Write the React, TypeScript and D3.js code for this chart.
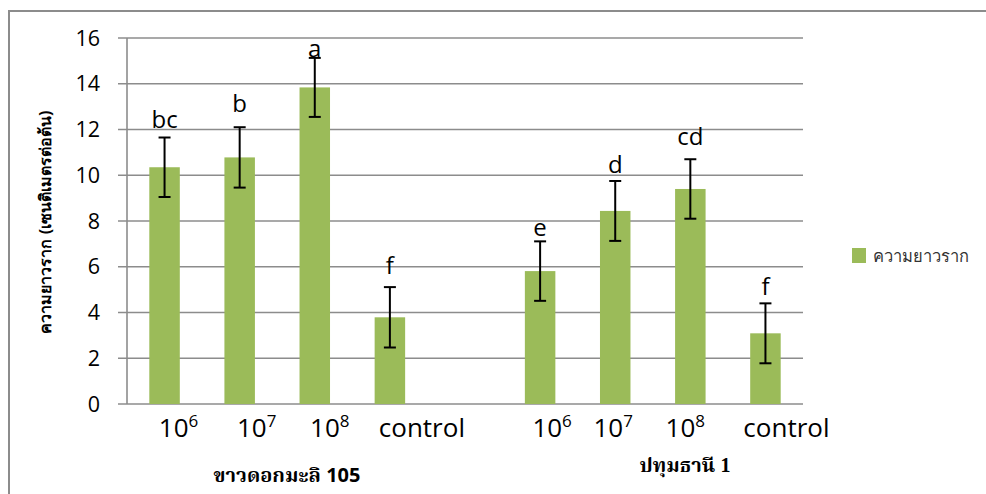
import React from "react";
import * as d3 from "d3";

// ---- data ----
const categoryIds = ["K-1e6", "K-1e7", "K-1e8", "K-control", "gap", "P-1e6", "P-1e7", "P-1e8", "P-control"];
const tickBase = ["10", "10", "10", "control", "", "10", "10", "10", "control"];
const tickSup = ["6", "7", "8", "", "", "6", "7", "8", ""];
const means: (number | null)[] = [10.35, 10.78, 13.84, 3.79, null, 5.81, 8.44, 9.4, 3.09];
const errors: (number | null)[] = [1.3, 1.32, 1.29, 1.32, null, 1.3, 1.31, 1.3, 1.31];
const letters = ["bc", "b", "a", "f", "", "e", "d", "cd", "f"];
const groupNames = ["ขาวดอกมะลิ", "ปทุมธานี"];
const groupNumbers = ["105", "1"];
const yTicks = [0, 2, 4, 6, 8, 10, 12, 14, 16];
const seriesName = "ความยาวราก";
const yTitle = "ความยาวราก (เซนติเมตรต่อต้น)";

// ---- layout constants ----
const W = 986, H = 494;
const plot = { left: 127, right: 803, top: 38, bottom: 404 };
const labelOffsets = [14, 17, 15, 32, 0, 12, -2, -5, 21];
const letterGaps = [10, 15, 1, 13, 0, 5, 8, 14, 8];
const groupLabelPos = [
  { x: 287, y: 482 },
  { x: 685, y: 472 },
];
const barColor = "#9BBB59";
const gridColor = "#8c8c8c";

export default function App() {
  const x = d3.scaleBand<string>().domain(categoryIds).range([plot.left, plot.right]).paddingInner(0.594).paddingOuter(0.297);
  const y = d3.scaleLinear().domain([0, 16]).range([plot.bottom, plot.top]);
  const bw = x.bandwidth();
  const sans = "'Open Sans', Lato, sans-serif";

  return (
    <svg width={W} height={H} style={{ position: "absolute", left: 0, top: 0, background: "#fff" }}>
      <rect x={0} y={0} width={W} height={H} fill="#fff" />
      {/* outer border */}
      <rect x={9} y={11} width={W + 10} height={H + 10} fill="none" stroke={gridColor} strokeWidth={2} />

      {/* gridlines and y ticks */}
      {yTicks.map((t) => (
        <g key={t}>
          <line x1={plot.left - 9} x2={plot.right} y1={y(t)} y2={y(t)} stroke={gridColor} strokeWidth={1.6} />
          <text x={100} y={y(t)} dy="0.36em" textAnchor="end" fontFamily={sans} fontSize={21.5} fill="#000">
            {t}
          </text>
        </g>
      ))}
      <line x1={plot.left} x2={plot.left} y1={plot.top} y2={plot.bottom} stroke={gridColor} strokeWidth={1.6} />

      {/* bars */}
      {categoryIds.map((c, i) => {
        const m = means[i];
        if (m == null) return null;
        const e = errors[i] as number;
        const cx = (x(c) as number) + bw / 2;
        return (
          <g key={c}>
            <rect x={x(c)} y={y(m)} width={bw} height={y(0) - y(m)} fill={barColor} />
            <line x1={cx} x2={cx} y1={y(m + e)} y2={y(m - e)} stroke="#000" strokeWidth={2} />
            <line x1={cx - 6} x2={cx + 6} y1={y(m + e)} y2={y(m + e)} stroke="#000" strokeWidth={2} />
            <line x1={cx - 6} x2={cx + 6} y1={y(m - e)} y2={y(m - e)} stroke="#000" strokeWidth={2} />
            <text x={cx} y={y(m + e) - letterGaps[i]} textAnchor="middle" fontFamily={sans} fontSize={24} fill="#000">
              {letters[i]}
            </text>
          </g>
        );
      })}

      {/* x labels */}
      {categoryIds.map((c, i) => {
        if (!tickBase[i]) return null;
        const cx = (x(c) as number) + bw / 2 + labelOffsets[i];
        return (
          <text key={c} x={cx} y={437} textAnchor="middle" fontFamily={sans} fontSize={26} fill="#000">
            {tickBase[i]}
            {tickSup[i] && (
              <tspan fontSize={17} dy={-10}>
                {tickSup[i]}
              </tspan>
            )}
          </text>
        );
      })}

      {/* group labels */}
      {groupNames.map((g, i) => (
        <text
          key={g}
          x={groupLabelPos[i].x}
          y={groupLabelPos[i].y}
          textAnchor="middle"
          fontFamily="'Noto Serif Thai', 'Liberation Serif', serif"
          fontWeight="bold"
          fontSize={20}
          fill="#000"
        >
          {g + " "}
          <tspan fontFamily={i === 0 ? sans : "'Liberation Serif', serif"}>{groupNumbers[i]}</tspan>
        </text>
      ))}

      {/* y title */}
      <text
        transform={`translate(45, 222) rotate(-90)`}
        textAnchor="middle"
        dominantBaseline="central"
        fontFamily="'Noto Sans', sans-serif"
        fontWeight="bold"
        fontSize={16}
        fill="#000"
      >
        {yTitle}
      </text>

      {/* legend */}
      <rect x={852} y={248} width={14} height={15} fill={barColor} />
      <text x={873} y={262} fontFamily="'Noto Sans', sans-serif" fontSize={16.5} fill="#333">
        {seriesName}
      </text>
    </svg>
  );
}
